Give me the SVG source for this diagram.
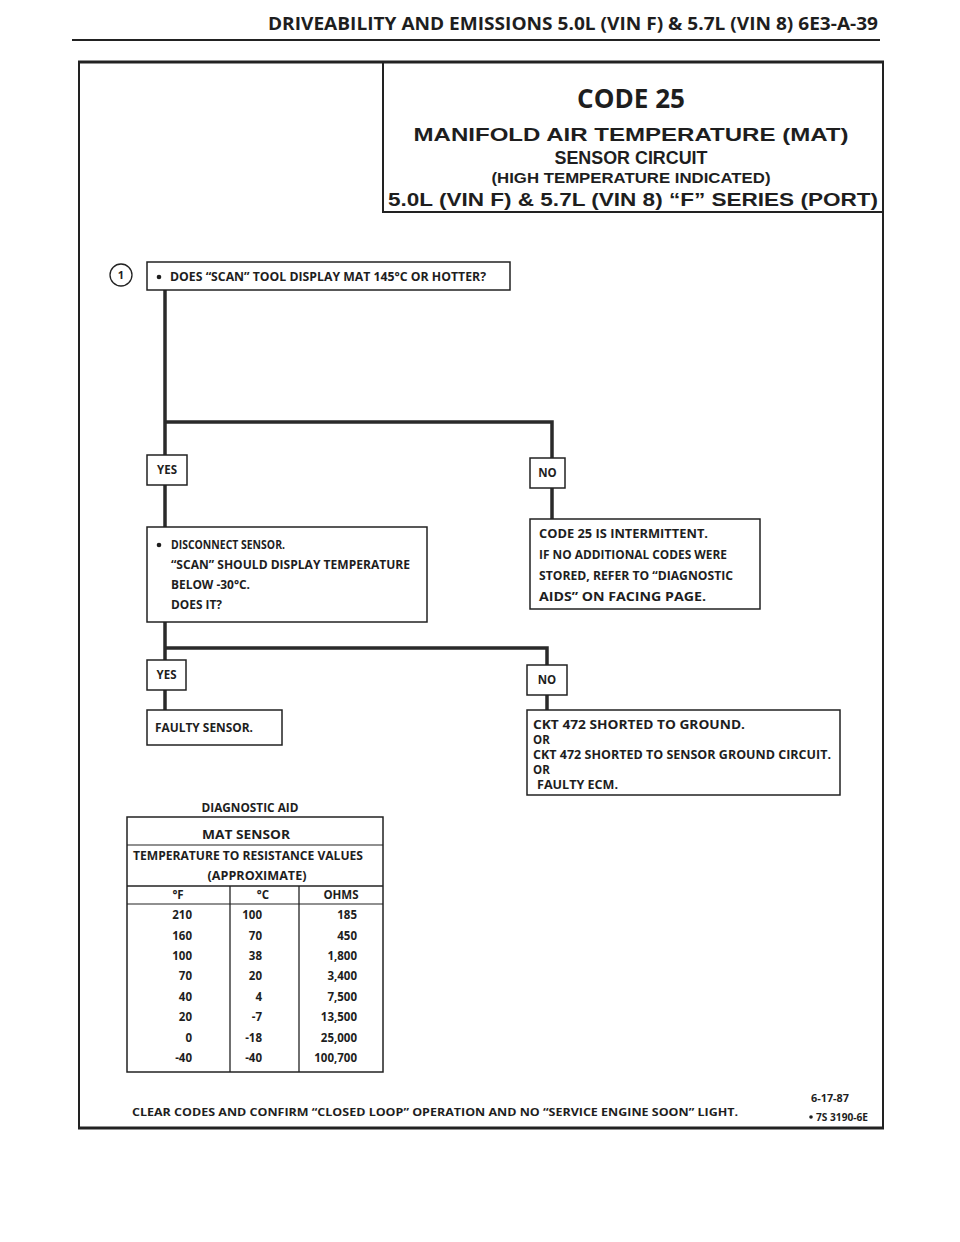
<svg xmlns="http://www.w3.org/2000/svg" width="960" height="1242" viewBox="0 0 960 1242">
<style>
text{font-family:"Open Sans","Liberation Sans",sans-serif;font-weight:bold;fill:#1e1e1e}
.ttl{font-family:"Liberation Sans","Open Sans",sans-serif}
.box{fill:#fff;stroke:#222;stroke-width:1.5}
.tagr{fill:#fff;stroke:#222;stroke-width:1.5}
.wire{fill:none;stroke:#2a2a2a;stroke-width:3.5}
.frame{fill:none;stroke:#222;stroke-width:2}
.t12{font-size:11.5px}
.lbl{font-size:11.5px;text-anchor:middle}
.tb{font-size:11.5px}
.r{text-anchor:end}
.c{text-anchor:middle}
</style>
<rect width="960" height="1242" fill="#fff"/>
<g id="page-header">
<text x="878" y="30" font-size="17" text-anchor="end" textLength="610" lengthAdjust="spacingAndGlyphs">DRIVEABILITY AND EMISSIONS 5.0L (VIN F) &amp; 5.7L (VIN 8) 6E3-A-39</text>
<line x1="72" y1="40" x2="880" y2="40" stroke="#222" stroke-width="2.2"/>
</g>
<g id="outer-frame">
<line x1="78" y1="62" x2="884" y2="62" stroke="#222" stroke-width="3"/>
<line x1="79" y1="62" x2="79" y2="1128" stroke="#222" stroke-width="2"/>
<line x1="883" y1="62" x2="883" y2="1128" stroke="#222" stroke-width="2"/>
<line x1="78" y1="1128" x2="884" y2="1128" stroke="#222" stroke-width="3"/>
</g>
<g id="title">
<path d="M383 62 V212 H883" class="frame" stroke-width="1.5"/>
<text x="631" y="108" font-size="26" class="c" textLength="108" lengthAdjust="spacingAndGlyphs">CODE 25</text>
<text x="631" y="141" font-size="19" class="c ttl" textLength="435" lengthAdjust="spacingAndGlyphs">MANIFOLD AIR TEMPERATURE (MAT)</text>
<text x="631" y="164" font-size="19" class="c ttl" textLength="153" lengthAdjust="spacingAndGlyphs">SENSOR CIRCUIT</text>
<text x="631" y="183" font-size="15.5" class="c ttl" textLength="279" lengthAdjust="spacingAndGlyphs">(HIGH TEMPERATURE INDICATED)</text>
<text x="633" y="206" font-size="19" class="c ttl" textLength="490" lengthAdjust="spacingAndGlyphs">5.0L (VIN F)  &amp;  5.7L (VIN 8)   “F”  SERIES  (PORT)</text>
</g>
<g id="connectors">
<path class="wire" d="M165 290 V622"/>
<path class="wire" d="M165 422 H552 V520"/>
<path class="wire" d="M165 622 V710"/>
<path class="wire" d="M165 648 H547 V710"/>
</g>
<g id="step1">
<circle cx="121" cy="275" r="11" fill="#fff" stroke="#222" stroke-width="1.3"/>
<text x="121" y="279" font-size="11" class="c" font-weight="normal">1</text>
<rect class="box" x="147" y="262" width="363" height="28"/>
<circle cx="159" cy="277" r="2.3" fill="#1e1e1e"/>
<text x="170" y="281" class="t12" textLength="316" lengthAdjust="spacingAndGlyphs">DOES “SCAN” TOOL DISPLAY MAT 145°C OR HOTTER?</text>
</g>
<g id="yes1">
<rect class="tagr" x="147" y="455" width="40" height="30"/>
<text x="167" y="474" class="lbl">YES</text>
</g>
<g id="no1">
<rect class="tagr" x="530" y="458" width="35" height="30"/>
<text x="547.5" y="477" class="lbl">NO</text>
</g>
<g id="step2">
<rect class="box" x="147" y="527" width="280" height="95"/>
<circle cx="159" cy="545" r="2.3" fill="#1e1e1e"/>
<text x="171" y="549" class="t12" textLength="114" lengthAdjust="spacingAndGlyphs">DISCONNECT SENSOR.</text>
<text x="171" y="569" class="t12" textLength="239" lengthAdjust="spacingAndGlyphs">“SCAN” SHOULD DISPLAY TEMPERATURE</text>
<text x="171" y="589" class="t12" textLength="79" lengthAdjust="spacingAndGlyphs">BELOW -30°C.</text>
<text x="171" y="609" class="t12" textLength="51" lengthAdjust="spacingAndGlyphs">DOES IT?</text>
</g>
<g id="intermittent">
<rect class="box" x="530" y="519" width="230" height="90"/>
<text x="539" y="538" class="t12" textLength="169" lengthAdjust="spacingAndGlyphs">CODE 25 IS INTERMITTENT.</text>
<text x="539" y="559" class="t12" textLength="188" lengthAdjust="spacingAndGlyphs">IF NO ADDITIONAL CODES WERE</text>
<text x="539" y="580" class="t12" textLength="194" lengthAdjust="spacingAndGlyphs">STORED, REFER TO  “DIAGNOSTIC</text>
<text x="539" y="601" class="t12" textLength="167" lengthAdjust="spacingAndGlyphs">AIDS” ON FACING PAGE.</text>
</g>
<g id="yes2">
<rect class="tagr" x="147" y="660" width="39" height="30"/>
<text x="166.5" y="679" class="lbl">YES</text>
</g>
<g id="no2">
<rect class="tagr" x="527" y="665" width="40" height="30"/>
<text x="547" y="684" class="lbl">NO</text>
</g>
<g id="faulty-sensor">
<rect class="box" x="147" y="710" width="135" height="35"/>
<text x="155" y="732" class="t12" textLength="98" lengthAdjust="spacingAndGlyphs">FAULTY SENSOR.</text>
</g>
<g id="ckt472">
<rect class="box" x="527" y="710" width="313" height="85"/>
<text x="533" y="729" class="t12" textLength="212" lengthAdjust="spacingAndGlyphs">CKT 472  SHORTED TO GROUND.</text>
<text x="533" y="744" class="t12">OR</text>
<text x="533" y="759" class="t12" textLength="298" lengthAdjust="spacingAndGlyphs">CKT 472 SHORTED TO SENSOR GROUND CIRCUIT.</text>
<text x="533" y="774" class="t12">OR</text>
<text x="537" y="789" class="t12" textLength="81" lengthAdjust="spacingAndGlyphs">FAULTY ECM.</text>
</g>
<g id="diagnostic-aid">
<text x="250" y="812" class="t12 c" textLength="97" lengthAdjust="spacingAndGlyphs">DIAGNOSTIC AID</text>
<rect x="127" y="817" width="256" height="255" fill="none" stroke="#222" stroke-width="1.5"/>
<line x1="127" y1="845" x2="383" y2="845" stroke="#222" stroke-width="1.2"/>
<line x1="127" y1="886" x2="383" y2="886" stroke="#222" stroke-width="1.5"/>
<line x1="127" y1="904" x2="383" y2="904" stroke="#222" stroke-width="1.2"/>
<line x1="230" y1="886" x2="230" y2="1072" stroke="#222" stroke-width="1.3"/>
<line x1="299" y1="886" x2="299" y2="1072" stroke="#222" stroke-width="1.3"/>
<text x="246" y="839" class="tb c" textLength="88" lengthAdjust="spacingAndGlyphs">MAT SENSOR</text>
<text x="248" y="860" class="tb c" textLength="230" lengthAdjust="spacingAndGlyphs">TEMPERATURE TO RESISTANCE VALUES</text>
<text x="257" y="880" class="tb c" textLength="99" lengthAdjust="spacingAndGlyphs">(APPROXIMATE)</text>
<text x="178" y="899" class="tb c">°F</text>
<text x="263" y="899" class="tb c">°C</text>
<text x="341" y="899" class="tb c">OHMS</text>
<g class="tb r">
<text x="192" y="919">210</text><text x="262" y="919">100</text><text x="357" y="919">185</text>
<text x="192" y="940">160</text><text x="262" y="940">70</text><text x="357" y="940">450</text>
<text x="192" y="960">100</text><text x="262" y="960">38</text><text x="357" y="960">1,800</text>
<text x="192" y="980">70</text><text x="262" y="980">20</text><text x="357" y="980">3,400</text>
<text x="192" y="1001">40</text><text x="262" y="1001">4</text><text x="357" y="1001">7,500</text>
<text x="192" y="1021">20</text><text x="262" y="1021">-7</text><text x="357" y="1021">13,500</text>
<text x="192" y="1042">0</text><text x="262" y="1042">-18</text><text x="357" y="1042">25,000</text>
<text x="192" y="1062">-40</text><text x="262" y="1062">-40</text><text x="357" y="1062">100,700</text>
</g>
</g>
<g id="footer">
<text x="132" y="1116" font-size="11" textLength="606" lengthAdjust="spacingAndGlyphs">CLEAR CODES AND CONFIRM “CLOSED LOOP”  OPERATION AND NO “SERVICE ENGINE SOON” LIGHT.</text>
<text x="849" y="1102" font-size="11" class="r" textLength="38" lengthAdjust="spacingAndGlyphs">6-17-87</text>
<circle cx="811" cy="1117" r="1.8" fill="#1e1e1e"/>
<text x="868" y="1121" font-size="11" class="r" textLength="52" lengthAdjust="spacingAndGlyphs">7S 3190-6E</text>
</g>
</svg>
